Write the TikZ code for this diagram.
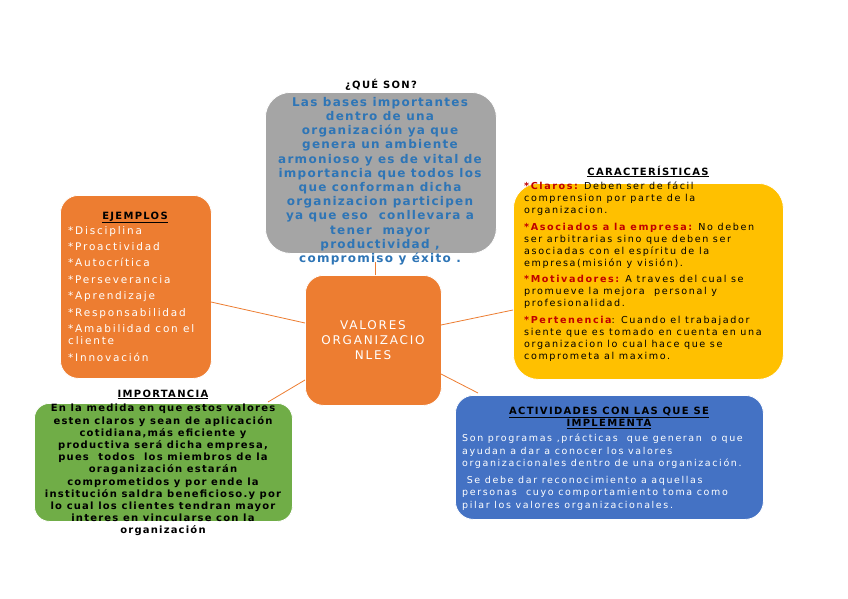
\documentclass[tikz,border=0pt]{standalone}
\usepackage{fontspec}
\setmainfont{DejaVu Sans}
\definecolor{cgray}{HTML}{A5A5A5}
\definecolor{cblue}{HTML}{2E75B6}
\definecolor{cyellow}{HTML}{FFC000}
\definecolor{corange}{HTML}{ED7D31}
\definecolor{cgreen}{HTML}{70AD47}
\definecolor{cbox}{HTML}{4472C4}
\definecolor{cred}{HTML}{C00000}
\newcommand{\ls}[1]{\addfontfeature{LetterSpace=#1}}
\begin{document}
\begin{tikzpicture}[x=1pt,y=-1pt,
  box/.style={draw=white,line width=0.8pt,inner sep=0pt,anchor=north west},
  txt/.style={inner sep=0pt,align=left,anchor=north west},
  ttl/.style={inner sep=0pt,align=center,anchor=base,font=\fontsize{10}{12}\selectfont\bfseries\ls{13}},
  link/.style={draw=corange,line width=0.8pt}]
\useasboundingbox[fill=white] (0,0) rectangle (848,599);
% boxes
\node[box,fill=cgray,rounded corners=25pt,minimum width=231pt,minimum height=161pt] (gray) at (265,92) {};
\node[box,fill=cyellow,rounded corners=25pt,minimum width=270pt,minimum height=196pt] (yel) at (513,183) {};
\node[box,fill=corange,rounded corners=18pt,minimum width=151pt,minimum height=183pt] (ejm) at (60,195) {};
\node[box,fill=corange,rounded corners=18pt,minimum width=136pt,minimum height=130pt] (cen) at (305,275) {};
\node[box,fill=cgreen,rounded corners=15pt,minimum width=258pt,minimum height=118pt] (grn) at (34,403) {};
\node[box,fill=cbox,rounded corners=18pt,minimum width=308pt,minimum height=124pt] (blu) at (455,395) {};
% connectors
\coordinate (c1) at (375,275); \coordinate (g1) at (375,262);
\draw[link] (c1) -- (g1);
\coordinate (c2) at (305,323); \coordinate (e2) at (211,302);
\draw[link] (c2) -- (e2);
\coordinate (c3) at (441,325); \coordinate (y3) at (513,310);
\draw[link] (c3) -- (y3);
\coordinate (c4) at (305,380); \coordinate (gr4) at (268,402);
\draw[link] (c4) -- (gr4);
\coordinate (c5) at (441,374); \coordinate (b5) at (478,393);
\draw[link] (c5) -- (b5);
% titles
\node[ttl] (t1) at (381,89) {¿QUÉ SON?};
\node[ttl] (t2) at (648,175) {\underline{CARACTERÍSTICAS}};
\node[ttl] (t3) at (135,219) {\underline{EJEMPLOS}};
\node[ttl] (t4) at (163,397) {\underline{IMPORTANCIA}};
\node[ttl,anchor=north] (t5) at (609,407) {\underline{ACTIVIDADES CON LAS QUE SE}\\\underline{IMPLEMENTA}};
% center text
\node[inner sep=0pt,align=center,text=white,font=\fontsize{12}{15}\selectfont\ls{15}] (ct) at (373,340) {VALORES\\ORGANIZACIO\\NLES};
% gray text
\node[inner sep=0pt,align=center,anchor=north,text=cblue,font=\fontsize{12}{14.2}\selectfont\bfseries\ls{10.5}] (gt) at (380,97)
{Las bases importantes\\dentro de una\\organización ya que\\genera un ambiente\\armonioso y es de vital de\\importancia que todos los\\que conforman dicha\\organizacion participen\\ya que eso\ \ conllevara a\\tener\ \ mayor\\productividad ,\\compromiso y éxito .};
% yellow text
\node[txt,font=\fontsize{9.6}{12}\selectfont\ls{16.5}] (yt) at (524,182)
{{\color{cred}\bfseries *Claros:} Deben ser de fácil\\comprension por parte de la\\organizacion.\\[4.5pt]
{\color{cred}\bfseries *Asociados a la empresa:} No deben\\ser arbitrarias sino que deben ser\\asociadas con el espíritu de la\\empresa(misión y visión).\\[4.5pt]
{\color{cred}\bfseries *Motivadores:} A traves del cual se\\promueve la mejora\ \ personal y\\profesionalidad.\\[4.5pt]
{\color{cred}\bfseries *Pertenencia}: Cuando el trabajador\\siente que es tomado en cuenta en una\\organizacion lo cual hace que se\\comprometa al maximo.};
% ejemplos text
\node[txt,text=white,font=\fontsize{10.5}{12.2}\selectfont\ls{17}] (et) at (68,226)
{*Disciplina\\[4.2pt]*Proactividad\\[4.2pt]*Autocrítica\\[4.2pt]*Perseverancia\\[4.2pt]*Aprendizaje\\[4.2pt]*Responsabilidad\\[4.2pt]*Amabilidad con el\\cliente\\[4.2pt]*Innovación};
% green text
\node[inner sep=0pt,align=center,anchor=north,font=\fontsize{10}{12.2}\selectfont\bfseries\ls{12}] (gnt) at (163,404)
{En la medida en que estos valores\\esten claros y sean de aplicación\\cotidiana,más eficiente y\\productiva será dicha empresa,\\pues\ \ todos\ \ los miembros de la\\oraganización estarán\\comprometidos y por ende la\\institución saldra beneficioso.y por\\lo cual los clientes tendran mayor\\interes en vincularse con la\\organización};
% blue text
\node[txt,text=white,font=\fontsize{9.5}{12.4}\selectfont\ls{17}] (bt) at (462,434)
{Son programas ,prácticas\ \ que generan\ \ o que\\ayudan a dar a conocer los valores\\organizacionales dentro de una organización.\\[4.5pt]
\ Se debe dar reconocimiento a aquellas\\personas\ \ cuyo comportamiento toma como\\pilar los valores organizacionales.};
\end{tikzpicture}
\end{document}
